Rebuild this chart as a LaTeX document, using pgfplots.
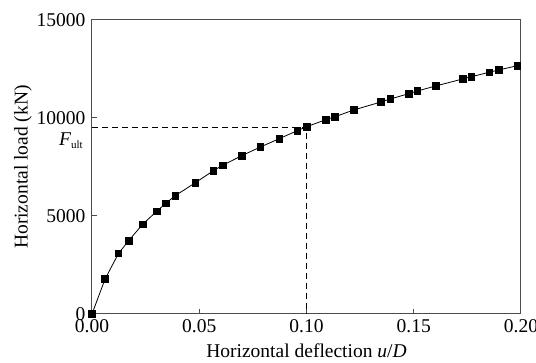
\documentclass[border=0pt]{standalone}
\usepackage{fontspec}
\setmainfont{Liberation Serif}
\usepackage{pgfplots}
\pgfplotsset{compat=1.18}
\begin{document}
\begin{tikzpicture}[font=\fontsize{19.5}{23}\selectfont]
\begin{axis}[
  scale only axis,
  width=429pt, height=294pt,
  xmin=0, xmax=0.2, ymin=0, ymax=15000,
  xtick={0,0.05,0.1,0.15,0.2},
  ytick={0,5000,10000,15000},
  scaled y ticks=false, scaled x ticks=false,
  xtick pos=bottom, ytick pos=left,
  tick align=inside,
  major tick length=5pt,
  axis line style={black!70, line width=1pt},
  tick style={black!70, line width=1pt},
  /pgf/number format/assume math mode=true,
  every tick label/.append style={font=\fontsize{19.5}{23}\selectfont},
  every axis label/.append style={font=\fontsize{19.5}{23}\selectfont},
  x tick label style={/pgf/number format/fixed, /pgf/number format/fixed zerofill, /pgf/number format/precision=2, yshift=-2pt},
  y tick label style={/pgf/number format/fixed, /pgf/number format/set thousands separator={}, xshift=-3pt},
  xlabel={Horizontal deflection \textit{u}/\textit{D}},
  ylabel={Horizontal load (kN)},
  xlabel style={yshift=-4pt},
  ylabel style={yshift=-2pt},
  clip=false,
]
\addplot[black, line width=0.8pt, dash pattern=on 6pt off 4pt] coordinates {(0,9540) (0.1,9540) (0.1,0)};
\addplot[black, line width=0.8pt, mark=square*, mark size=3.3pt, mark options={solid}] coordinates {
(0,0) (0.0061,1786) (0.0124,3097) (0.0171,3740) (0.0236,4577) (0.0302,5240)
(0.0344,5648) (0.0388,6036) (0.0482,6700) (0.0566,7311) (0.0609,7587)
(0.0698,8077) (0.0785,8520) (0.0873,8944) (0.0957,9352) (0.1001,9556)
(0.1090,9913) (0.1133,10066) (0.1220,10408) (0.1347,10816) (0.1391,10969)
(0.1476,11240) (0.1517,11378) (0.1602,11633) (0.1728,11990) (0.1768,12107)
(0.1852,12332) (0.1896,12449) (0.1983,12669)
};
\node[anchor=north east, inner sep=0pt] at (axis cs:0,9540) [xshift=-9pt, yshift=-6pt] {\textit{F}\raisebox{-3pt}{\fontsize{11}{12}\selectfont ult}};
\end{axis}
\pgfresetboundingbox
\path (-92pt,-49pt) rectangle (444pt,314pt);
\end{tikzpicture}
\end{document}
